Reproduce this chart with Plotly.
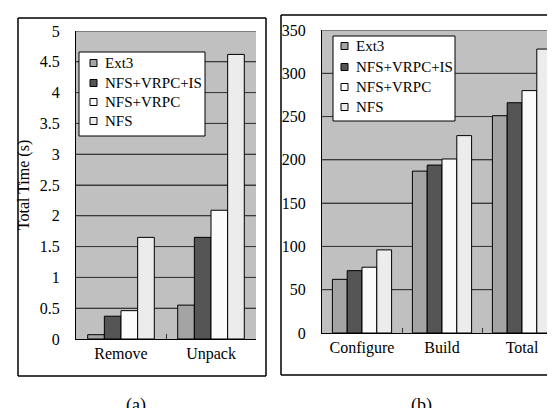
import plotly.graph_objects as go

W, H = 555, 408

series = ["Ext3", "NFS+VRPC+IS", "NFS+VRPC", "NFS"]
colors = ["#a4a4a4", "#555555", "#fbfbfb", "#ececec"]

cats_a = ["Remove", "Unpack"]
vals_a = {
    "Ext3": [0.07, 0.55],
    "NFS+VRPC+IS": [0.37, 1.65],
    "NFS+VRPC": [0.46, 2.09],
    "NFS": [1.65, 4.62],
}

cats_b = ["Configure", "Build", "Total"]
vals_b = {
    "Ext3": [62, 187, 251],
    "NFS+VRPC+IS": [72, 194, 266],
    "NFS+VRPC": [76, 201, 280],
    "NFS": [96, 228, 328],
}

yticks_a = [0, 0.5, 1, 1.5, 2, 2.5, 3, 3.5, 4, 4.5, 5]
yticks_b = [0, 50, 100, 150, 200, 250, 300, 350]

FONT = "Liberation Serif"


def px(x):
    return x / W


def py(y):
    return 1 - y / H


fig = go.Figure()

for name, col in zip(series, colors):
    fig.add_trace(go.Bar(x=cats_a, y=vals_a[name], name=name, marker_color=col,
                         marker_line_color="black", marker_line_width=1,
                         xaxis="x", yaxis="y", showlegend=False))
for name, col in zip(series, colors):
    fig.add_trace(go.Bar(x=cats_b, y=vals_b[name], name=name, marker_color=col,
                         marker_line_color="black", marker_line_width=1,
                         xaxis="x2", yaxis="y2", showlegend=False))

grid = "#3a3a3a"
common_x = dict(showline=True, linecolor="black", linewidth=1, ticks="inside",
                tickson="boundaries", ticklen=5, tickcolor="#333333",
                showgrid=False, automargin=False,
                tickfont=dict(family=FONT, size=16, color="black"))
common_y = dict(showline=True, linecolor="black", linewidth=1, ticks="outside",
                ticklen=12, tickcolor="white", showgrid=True, gridcolor=grid,
                gridwidth=1, zeroline=False, automargin=False,
                tickfont=dict(family=FONT, size=16, color="black"))

fig.update_layout(
    width=W, height=H,
    margin=dict(l=0, r=0, t=0, b=0),
    paper_bgcolor="white",
    plot_bgcolor="#c0c0c0",
    barmode="group",
    bargap=0.26,
    bargroupgap=0,
    font=dict(family=FONT, color="black"),
    xaxis=dict(domain=[px(68), px(248)], anchor="y", **common_x),
    yaxis=dict(domain=[py(331), py(23)], anchor="x", range=[0, 5],
               tickvals=yticks_a, ticktext=[str(v) for v in yticks_a],
               title=dict(text="Total Time (s)", font=dict(family=FONT, size=16),
                          standoff=6), **common_y),
    xaxis2=dict(domain=[px(314), px(554)], anchor="y2", **common_x),
    yaxis2=dict(domain=[py(325), py(22)], anchor="x2", range=[0, 350],
                tickvals=yticks_b, ticktext=[str(v) for v in yticks_b], **common_y),
)

shapes = []
annotations = []

# grid lines also drawn as shapes through the axes' own scales (behind the bars)
for v in yticks_a[1:]:
    shapes.append(dict(type="line", xref="x domain", yref="y", x0=0, x1=1, y0=v, y1=v,
                       line=dict(color=grid, width=1), layer="below"))
for v in yticks_b[1:]:
    shapes.append(dict(type="line", xref="x2 domain", yref="y2", x0=0, x1=1, y0=v, y1=v,
                       line=dict(color=grid, width=1), layer="below"))


def frame(x0, y0, x1, y1):
    for (a, b, c, d) in [(x0, y0, x1, y0), (x0, y1, x1, y1), (x0, y0, x0, y1), (x1, y0, x1, y1)]:
        shapes.append(dict(type="line", xref="paper", yref="paper", x0=px(a), x1=px(c),
                           y0=py(b), y1=py(d), line=dict(color="black", width=1.5),
                           layer="above"))


frame(10, 10, 258, 368)
frame(273, 7, 558, 367)


def legend(x0, y0, x1, y1, sq_x, txt_x, row_y):
    shapes.append(dict(type="rect", xref="paper", yref="paper", x0=px(x0), x1=px(x1),
                       y0=py(y1), y1=py(y0), line=dict(color="black", width=1),
                       fillcolor="white", layer="above"))
    for i, (name, col) in enumerate(zip(series, colors)):
        yc = row_y[i]
        shapes.append(dict(type="rect", xref="paper", yref="paper",
                           x0=px(sq_x), x1=px(sq_x + 7), y0=py(yc + 3.5), y1=py(yc - 3.5),
                           line=dict(color="black", width=1), fillcolor=col, layer="above"))
        annotations.append(dict(xref="paper", yref="paper", x=px(txt_x), y=py(yc),
                                xanchor="left", yanchor="middle", showarrow=False,
                                text=name, font=dict(family=FONT, size=15, color="black")))


legend(71, 44, 197, 128, 82, 95, [55, 75, 94, 113])
legend(325, 28, 447, 113, 333, 346, [38, 59, 79, 99])

annotations.append(dict(xref="paper", yref="paper", x=px(128), y=py(397), xanchor="center",
                        yanchor="middle", showarrow=False, text="(a)",
                        font=dict(family=FONT, size=18, color="black")))
annotations.append(dict(xref="paper", yref="paper", x=px(413), y=py(397), xanchor="center",
                        yanchor="middle", showarrow=False, text="(b)",
                        font=dict(family=FONT, size=18, color="black")))

fig.update_layout(shapes=shapes, annotations=annotations)

fig.write_html("out.html")
